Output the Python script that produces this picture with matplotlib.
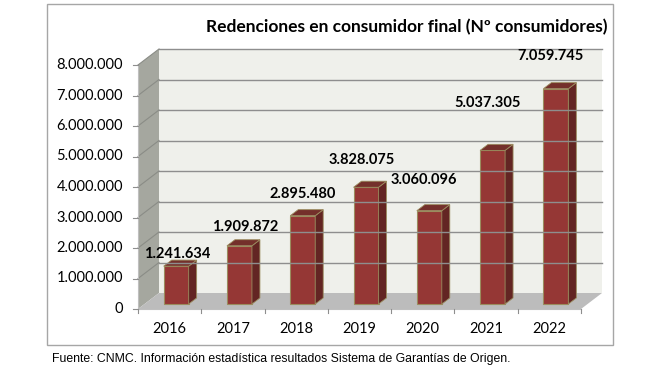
import matplotlib
matplotlib.use("Agg")
import matplotlib.pyplot as plt
from matplotlib.patches import Polygon, Rectangle

# datos
years = ["2016", "2017", "2018", "2019", "2020", "2021", "2022"]
consumers = [1241634, 1909872, 2895480, 3828075, 3060096, 5037305, 7059745]
y_ticks = [0, 1000000, 2000000, 3000000, 4000000, 5000000, 6000000, 7000000, 8000000]
title = "Redenciones en consumidor final (Nº consumidores)"
source = "Fuente: CNMC. Información estadística resultados Sistema de Garantías de Origen."

W, H = 672, 368
fig = plt.figure(figsize=(W / 100, H / 100), dpi=100)


def fx(px):
    return px / W


def fy(py):
    return 1 - py / H


# front plane of the 3d box, in pixels
x0, x1, ytop, ybot = 138, 581, 65, 309
ax = fig.add_axes([fx(x0), fy(ybot), fx(x1 - x0), (ybot - ytop) / H])
ymax = y_ticks[-1]
ax.set_xlim(-0.5, len(years) - 0.5)
ax.set_ylim(0, ymax)
ax.axis("off")

px_x = (x1 - x0) / len(years)
px_y = (ybot - ytop) / ymax
DX = 21 / px_x
DY = 16 / px_y

wall = "#eff0eb"
side_wall = "#a5a79f"
floor = "#bcbcbc"
grid = "#8e8e8e"


def poly(pts, **kw):
    ax.add_patch(Polygon(pts, closed=True, clip_on=False, **kw))


left, right = -0.5, len(years) - 0.5
poly([(left + DX, DY), (right + DX, DY), (right + DX, ymax + DY), (left + DX, ymax + DY)],
     facecolor=wall, edgecolor="none")
poly([(left, 0), (left + DX, DY), (left + DX, ymax + DY), (left, ymax)],
     facecolor=side_wall, edgecolor="none")
poly([(left, 0), (right, 0), (right + DX, DY), (left + DX, DY)],
     facecolor=floor, edgecolor="none")

for v in y_ticks[1:]:
    ax.plot([left + DX, right + DX], [v + DY, v + DY], color=grid, lw=1, clip_on=False)
    ax.plot([left, left + DX], [v, v + DY], color="#8a8c86", lw=0.8, clip_on=False)

# axes lines and ticks
ax.plot([left, left], [0, ymax], color="#bfbfbf", lw=0.8, clip_on=False)
ax.plot([left, right], [0, 0], color="#bfbfbf", lw=0.8, clip_on=False)
tick_w = 5 / px_x
tick_h = 4 / px_y
for v in y_ticks:
    ax.plot([left - tick_w, left], [v, v], color="#8e8e8e", lw=0.8, clip_on=False)
    ax.text(left - 15 / px_x, v, f"{v:,}".replace(",", "."), ha="right", va="center",
            fontsize=10.5, family="Lato", color="black")
for i in range(len(years) + 1):
    ax.plot([left + i, left + i], [0, -tick_h], color="#8e8e8e", lw=0.8, clip_on=False)
for i, yr in enumerate(years):
    ax.text(i, -20 / px_y, yr, ha="center", va="center", fontsize=10.5, family="Lato")

# bars
front = "#953735"
side = "#632523"
top = "#74302b"
edge = "#9a8c5e"
bw = 25 / px_x
f0, f1 = 0.31, 0.69
label_shift = [(1.5, 12), (5.5, 19), (0, 22), (-4, 27), (-5, 31), (-5, 47), (-5, 33)]
for i, v in enumerate(consumers):
    xa = i - bw / 2 + f0 * DX
    xb = xa + bw
    ya = f0 * DY
    ddx = (f1 - f0) * DX
    ddy = (f1 - f0) * DY
    poly([(xa, ya), (xb, ya), (xb, ya + v), (xa, ya + v)], facecolor=front, edgecolor=edge, lw=0.8)
    poly([(xb, ya), (xb + ddx, ya + ddy), (xb + ddx, ya + ddy + v), (xb, ya + v)],
         facecolor=side, edgecolor=edge, lw=0.6)
    poly([(xa, ya + v), (xb, ya + v), (xb + ddx, ya + ddy + v), (xa + ddx, ya + ddy + v)],
         facecolor=top, edgecolor=edge, lw=0.6)
    sx, sy = label_shift[i]
    ax.annotate(f"{v:,}".replace(",", "."), (i + f0 * DX, ya + v), xytext=(sx, sy),
                textcoords="offset pixels", ha="center", va="center",
                fontsize=10.5, fontweight="bold", family="Lato", annotation_clip=False)

# chart frame, title and source
fig.patches.append(Rectangle((fx(47), fy(345)), fx(613 - 47), (345 - 4) / H,
                             transform=fig.transFigure, fill=False,
                             edgecolor="#a6a6a6", lw=1))
fig.text(fx(407), fy(27), title, ha="center", va="center", fontsize=12.5,
         fontweight="bold", family="Lato")
fig.text(fx(52), fy(359), source, ha="left", va="center", fontsize=8.8,
         family="Liberation Sans")

fig.savefig("out.png", dpi=100)
